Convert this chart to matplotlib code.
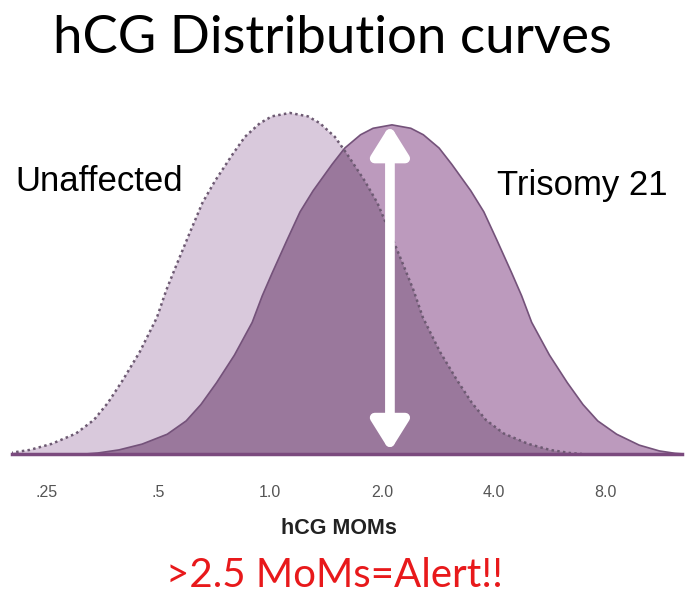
import matplotlib.pyplot as plt

# curve outlines: x = log2(MoM), y = height relative to the unaffected peak
unaff_x = [-2.437, -2.329, -2.151, -1.954, -1.739, -1.578, -1.453, -1.319, -1.167, -1.015,
           -0.930, -0.845, -0.719, -0.608, -0.496, -0.335, -0.227, -0.093, 0.014, 0.175,
           0.336, 0.443, 0.577, 0.685, 0.846, 0.958, 1.069, 1.195, 1.280, 1.365,
           1.517, 1.669, 1.803, 1.928, 2.089, 2.304, 2.501, 2.679, 2.787]
unaff_y = [0.0, 0.003, 0.012, 0.030, 0.060, 0.100, 0.150, 0.217, 0.300, 0.400,
           0.481, 0.550, 0.650, 0.736, 0.800, 0.880, 0.930, 0.970, 0.990, 1.000,
           0.990, 0.970, 0.930, 0.880, 0.800, 0.736, 0.650, 0.550, 0.481, 0.400,
           0.300, 0.217, 0.150, 0.100, 0.060, 0.030, 0.012, 0.003, 0.0]

tri_x = [-1.655, -1.541, -1.354, -1.147, -0.922, -0.753, -0.621, -0.481, -0.321, -0.162,
         -0.072, 0.017, 0.149, 0.266, 0.383, 0.552, 0.666, 0.807, 0.919, 1.088,
         1.257, 1.369, 1.510, 1.624, 1.793, 1.910, 2.027, 2.159, 2.248, 2.338,
         2.497, 2.657, 2.797, 2.929, 3.098, 3.300, 3.480, 3.620, 3.700]
tri_y = [0.0, 0.003, 0.012, 0.029, 0.058, 0.097, 0.145, 0.209, 0.290, 0.386,
         0.464, 0.531, 0.627, 0.710, 0.772, 0.849, 0.897, 0.936, 0.955, 0.965,
         0.955, 0.936, 0.897, 0.849, 0.772, 0.710, 0.627, 0.531, 0.464, 0.386,
         0.290, 0.209, 0.145, 0.097, 0.058, 0.026, 0.009, 0.002, 0.0]

tick_pos = [-2, -1, 0, 1, 2, 3]
tick_lab = ['.25', '.5', '1.0', '2.0', '4.0', '8.0']

arrow_x, arrow_top, arrow_bot = 1.07, 0.965, 0.008

fig = plt.figure(figsize=(6.85, 5.94), dpi=100)
ax = fig.add_axes([0.0175, 0.2357, 0.978, 0.596])
ax.set_xlim(-2.311, 3.682)
ax.set_ylim(0, 1.038)

u = ax.fill(unaff_x, unaff_y, color='#d9c9dc', lw=0, zorder=1)[0]
ax.fill(tri_x, tri_y, color='#bc9abd', lw=0, zorder=2)
ov = ax.fill(tri_x, tri_y, color='#9a789c', lw=0, zorder=3)[0]
ov.set_clip_path(u)  # darker where the two curves overlap
ax.plot(tri_x, tri_y, color='#74527a', lw=1.2, zorder=4)
ax.plot(unaff_x, unaff_y, color='#6d5a72', lw=1.8, ls=(0, (1, 1.3)), zorder=5)
ax.axhline(0, color='#7b4a7e', lw=2.5, zorder=6, clip_on=False)

ax.annotate('', xy=(arrow_x, arrow_top), xytext=(arrow_x, arrow_bot),
            arrowprops=dict(arrowstyle='<|-|>,head_width=0.5,head_length=0.8',
                            mutation_scale=22, lw=7, color='white',
                            shrinkA=0, shrinkB=0), zorder=7)

for s in ax.spines.values():
    s.set_visible(False)
ax.set_yticks([])
ax.set_xticks(tick_pos, tick_lab, family='Liberation Sans', fontsize=11.5, color='#555555')
ax.tick_params(axis='x', length=0, pad=22)
ax.set_xlabel('hCG MOMs', family='Liberation Sans', fontsize=15.5, fontweight='bold',
              color='#222222')
ax.xaxis.set_label_coords(0.488, -0.182)

fig.text(0.485, 0.936, 'hCG Distribution curves', ha='center', va='center',
         fontsize=38, family='Lato')
fig.text(0.022, 0.695, 'Unaffected', ha='left', va='center',
         fontsize=25, family='Liberation Sans')
fig.text(0.726, 0.687, 'Trisomy 21', ha='left', va='center',
         fontsize=25, family='Liberation Sans')
fig.text(0.488, 0.031, '>2.5 MoMs=Alert!!', ha='center', va='center',
         fontsize=29, family='Lato', color='#e8191b')

fig.savefig('out.png', dpi=100)
